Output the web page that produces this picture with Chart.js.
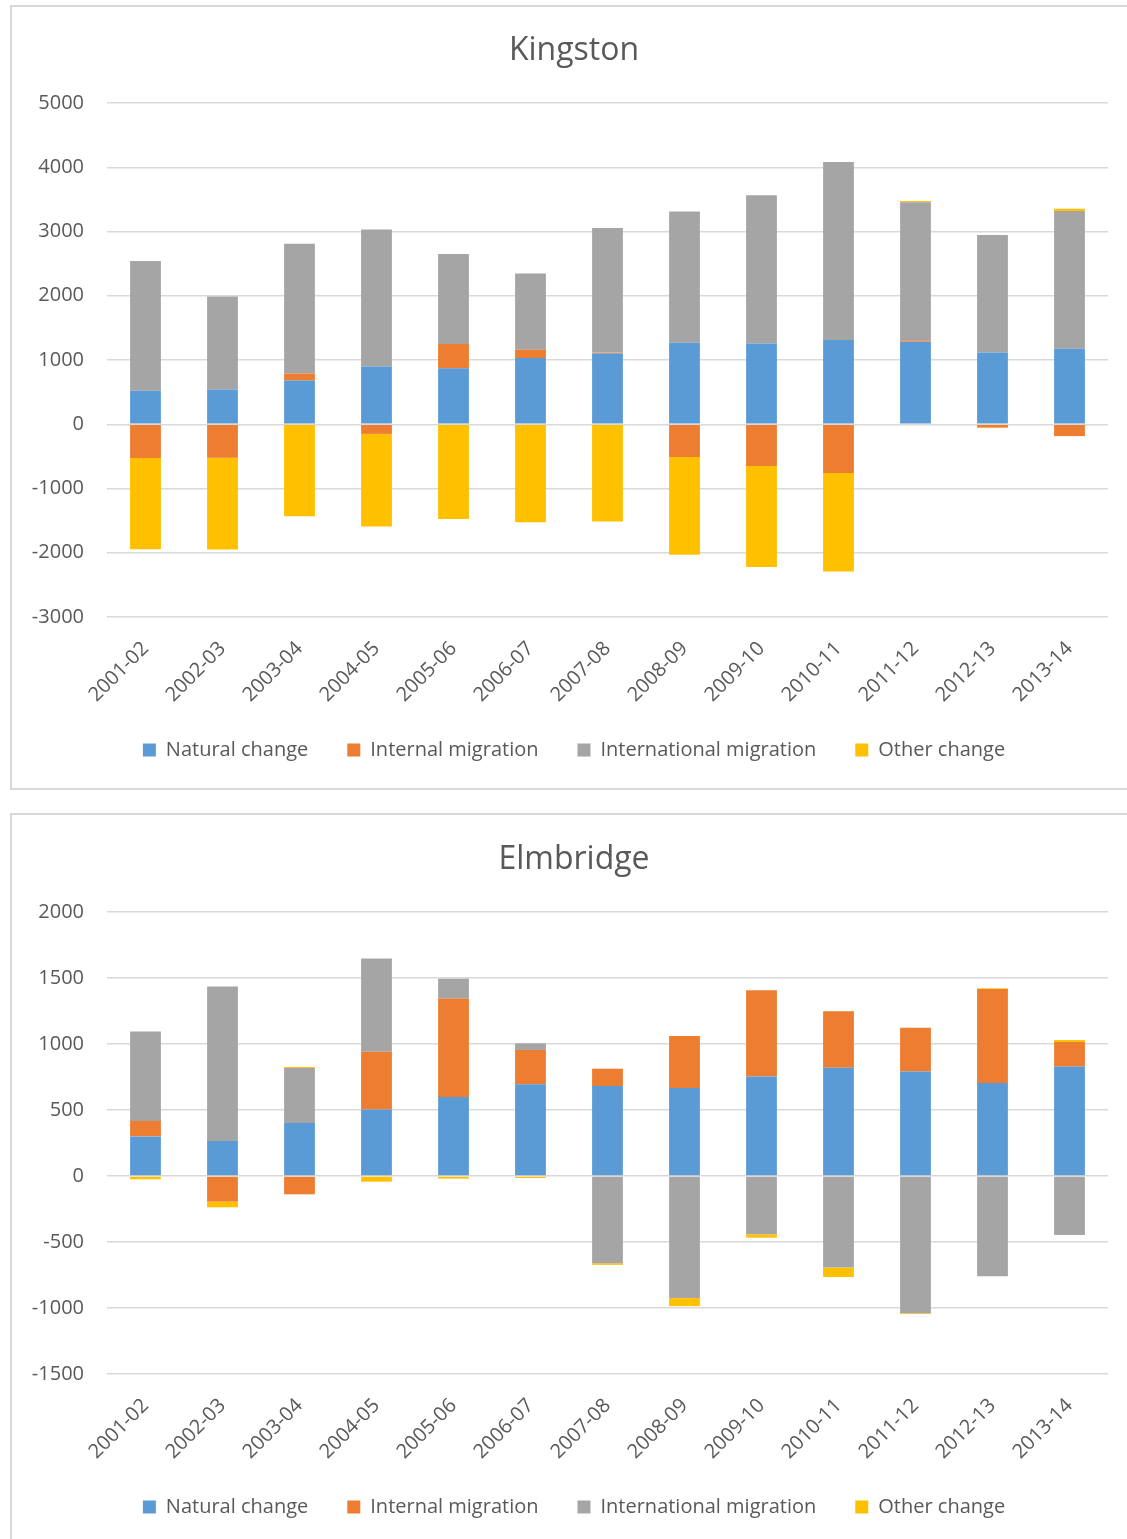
<!DOCTYPE html>
<html><head><meta charset="utf-8">
<script src="https://cdn.jsdelivr.net/npm/chart.js@4.4.1/dist/chart.umd.min.js"></script>
<style>
html,body{margin:0;padding:0;background:#fff}
body{width:1127px;height:1539px;overflow:hidden;position:relative;font-family:'Open Sans',sans-serif}
.box{position:absolute;left:10px;width:1200px;border:2px solid #d9d9d9;box-sizing:border-box}
#b1{top:5px;height:785px}
#b2{top:813px;height:800px}
canvas{position:absolute;left:0}
#c1{top:0}
#c2{top:800px}
</style></head><body>
<div class="box" id="b1"></div><div class="box" id="b2"></div>
<canvas id="c1" width="1127" height="789"></canvas>
<canvas id="c2" width="1127" height="739"></canvas>
<script>
const categories = ['2001-02','2002-03','2003-04','2004-05','2005-06','2006-07','2007-08','2008-09','2009-10','2010-11','2011-12','2012-13','2013-14'];
const seriesNames = ['Natural change','Internal migration','International migration','Other change'];

const kingstonNatural       = [520, 540, 680, 900, 870, 1030, 1100, 1270, 1255, 1310, 1285, 1115, 1175];
const kingstonInternal      = [-525, -520, 110, -150, 380, 130, 15, -510, -650, -760, 20, -50, -185];
const kingstonInternational = [2020, 1450, 2020, 2130, 1400, 1185, 1940, 2040, 2310, 2770, 2150, 1830, 2145];
const kingstonOther         = [-1420, -1430, -1430, -1440, -1475, -1525, -1515, -1520, -1570, -1530, 20, -10, 35];

const elmbridgeNatural       = [300, 265, 402, 503, 599, 695, 682, 667, 753, 821, 791, 705, 829];
const elmbridgeInternal      = [117, -194, -139, 439, 745, 260, 131, 394, 654, 427, 333, 712, 186];
const elmbridgeInternational = [677, 1170, 416, 705, 151, 50, -661, -925, -442, -694, -1040, -760, -447];
const elmbridgeOther         = [-25, -43, 8, -43, -20, -15, -12, -61, -25, -71, -6, 5, 15];

const kingstonTicks = {min: -3000, max: 5000, step: 1000};
const elmbridgeTicks = {min: -1500, max: 2000, step: 500};

const colors = ['#5B9BD5', '#ED7D31', '#A5A5A5', '#FFC000'];
const textColor = '#595959';
const fontFamily = "'Open Sans', sans-serif";

// let tick labels draw outside their scale box (no clipping)
Chart.Scale.prototype._computeLabelArea = function () { return undefined; };

function makeChart(id, title, series, ticks, geo) {
  const ctx = document.getElementById(id);
  return new Chart(ctx, {
    type: 'bar',
    data: {
      labels: categories,
      datasets: series.map((d, i) => ({
        label: seriesNames[i],
        data: d,
        backgroundColor: colors[i],
        borderWidth: 0,
        categoryPercentage: 0.8,
        barPercentage: 0.5
      }))
    },
    options: {
      responsive: false,
      animation: false,
      layout: {padding: {left: geo.padLeft, right: 19, top: 0, bottom: geo.padBottom}},
      plugins: {
        title: {
          display: true, text: title, color: textColor,
          font: {family: fontFamily, size: 32, weight: 'normal', lineHeight: 1.2},
          padding: {top: geo.titleTop, bottom: geo.titleBottom}
        },
        legend: {
          display: true, position: 'bottom', align: 'center',
          labels: {
            boxWidth: 13, boxHeight: 13, padding: 39, color: textColor,
            font: {family: fontFamily, size: 20}
          }
        },
        tooltip: {enabled: false}
      },
      scales: {
        x: {
          stacked: true,
          grid: {display: false},
          border: {display: false},
          ticks: {color: textColor, font: {family: fontFamily, size: 20}, minRotation: 45, maxRotation: 45, padding: 12, autoSkip: false},
          afterFit: s => { s.height = 84; }
        },
        y: {
          stacked: true,
          min: ticks.min, max: ticks.max,
          grid: {color: '#d9d9d9', lineWidth: 1.5, drawTicks: false},
          border: {display: false},
          ticks: {stepSize: ticks.step, color: textColor, font: {family: fontFamily, size: 20}, padding: 23, callback: v => String(v)},
          afterFit: s => { s.width = 107 - geo.padLeft; }
        }
      }
    }
  });
}

makeChart('c1', 'Kingston',
  [kingstonNatural, kingstonInternal, kingstonInternational, kingstonOther],
  kingstonTicks, {padLeft: 40, padBottom: 19, titleTop: 32, titleBottom: 32.6});
makeChart('c2', 'Elmbridge',
  [elmbridgeNatural, elmbridgeInternal, elmbridgeInternational, elmbridgeOther],
  elmbridgeTicks, {padLeft: 40, padBottom: 12, titleTop: 40.4, titleBottom: 33.2});
</script>
</body></html>
